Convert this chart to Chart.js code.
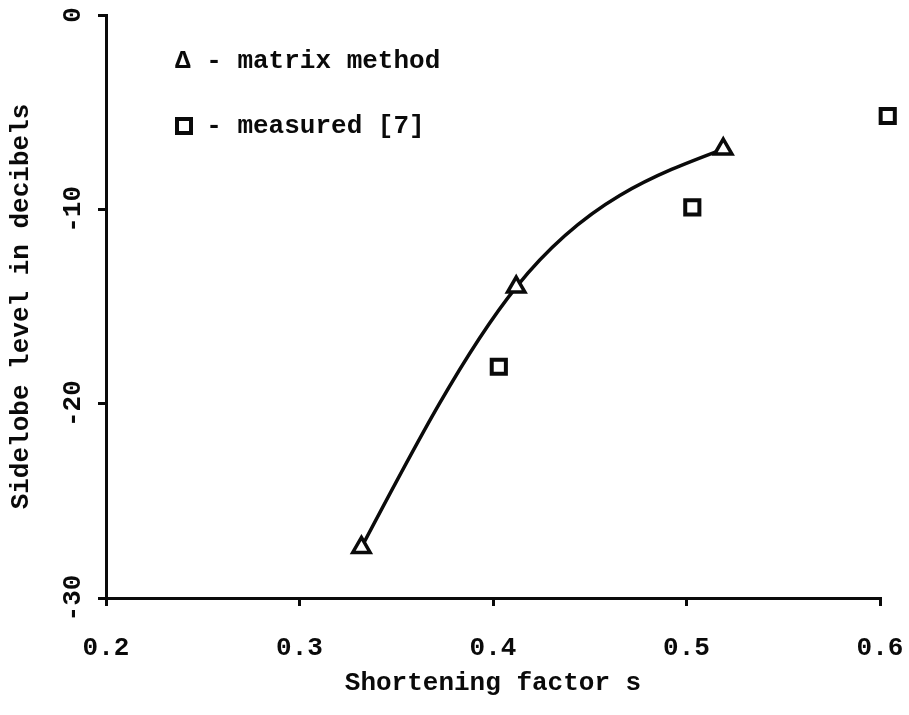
<!DOCTYPE html>
<html>
<head>
<meta charset="utf-8">
<script src="https://cdn.jsdelivr.net/npm/chart.js@4.4.0/dist/chart.umd.min.js"></script>
<style>
  body { margin: 0; background: #fff; }
  #wrap { width: 909px; height: 715px; }
</style>
</head>
<body>
<div id="wrap"><canvas id="sidelobe-chart" width="909" height="715"></canvas></div>
<script>
// shortening factor s vs. sidelobe level (dB)
var matrixS = [0.332, 0.412, 0.519];
var matrixDb = [-27.4, -14.0, -6.9];
var measuredS = [0.403, 0.503, 0.604];
var measuredDb = [-18.1, -9.9, -5.2];
var yTicks = [0, -10, -20, -30];
var legendText = ['\u0394 - matrix method', '- measured [7]'];

var ink = '#0a0a0a';
var mono = '"Liberation Mono", "Courier New", monospace';

function points(xs, ys) {
  return xs.map(function (x, i) { return { x: x, y: ys[i] }; });
}

// natural cubic spline through the point elements -> bezier control points
// (keeps the curve bending one way, no wiggle next to the end points)
function naturalSpline(pts) {
  var n = pts.length, h = [], d = [], M = [], i;
  for (i = 0; i < n - 1; i++) {
    h[i] = pts[i + 1].x - pts[i].x;
    d[i] = (pts[i + 1].y - pts[i].y) / h[i];
  }
  for (i = 0; i < n; i++) M[i] = 0;
  if (n > 2) {
    var a = [], b = [], c = [], r = [];
    for (i = 1; i < n - 1; i++) {
      a.push(h[i - 1]); b.push(2 * (h[i - 1] + h[i])); c.push(h[i]);
      r.push(6 * (d[i] - d[i - 1]));
    }
    var m = b.length;
    for (i = 1; i < m; i++) {
      var w = a[i] / b[i - 1];
      b[i] -= w * c[i - 1];
      r[i] -= w * r[i - 1];
    }
    M[m] = r[m - 1] / b[m - 1];
    for (i = m - 2; i >= 0; i--) M[i + 1] = (r[i] - c[i] * M[i + 2]) / b[i];
  }
  var slope = [];
  for (i = 0; i < n - 1; i++) slope[i] = d[i] - h[i] * (2 * M[i] + M[i + 1]) / 6;
  slope[n - 1] = d[n - 2] + h[n - 2] * (M[n - 2] + 2 * M[n - 1]) / 6;
  for (i = 0; i < n - 1; i++) {
    var k = h[i] / 3;
    pts[i].cp2x = pts[i].x + k;
    pts[i].cp2y = pts[i].y + slope[i] * k;
    pts[i + 1].cp1x = pts[i + 1].x - k;
    pts[i + 1].cp1y = pts[i + 1].y - slope[i + 1] * k;
  }
}

var smoothPlugin = {
  id: 'smoothCurve',
  beforeDatasetDraw: function (chart, args) {
    if (args.index !== 0) return;
    var line = args.meta.dataset;
    line.updateControlPoints(chart.chartArea, 'x');
    naturalSpline(args.meta.data);
  }
};

// y tick labels are rotated, plus the little legend in the corner
var extrasPlugin = {
  id: 'extras',
  afterDraw: function (chart) {
    var ctx = chart.ctx;
    var ys = chart.scales.y;
    var area = chart.chartArea;
    ctx.save();
    ctx.fillStyle = ink;
    ctx.font = 'bold 26px ' + mono;
    ctx.textAlign = 'center';
    ctx.textBaseline = 'middle';
    yTicks.forEach(function (v) {
      ctx.save();
      ctx.translate(ys.right - 33, ys.getPixelForValue(v));
      ctx.rotate(-Math.PI / 2);
      ctx.fillText(String(v), 0, 0);
      ctx.restore();
    });

    var lx = area.left + 69;
    var indent = ctx.measureText('\u0394 ').width;
    ctx.textAlign = 'left';
    ctx.fillText(legendText[0], lx, area.top + 46);
    ctx.strokeStyle = ink;
    ctx.lineWidth = 4;
    ctx.strokeRect(lx + 2, area.top + 104, 14, 14);
    ctx.fillText(legendText[1], lx + indent, area.top + 111);
    ctx.restore();
  }
};

var ctx = document.getElementById('sidelobe-chart');

var chartGraph = new Chart(ctx, {
  type: 'line',
  data: {
    datasets: [{
      label: 'matrix method',
      data: points(matrixS, matrixDb),
      borderColor: ink,
      borderWidth: 3.5,
      cubicInterpolationMode: 'monotone',
      pointStyle: 'triangle',
      pointRadius: 10,
      pointBorderWidth: 3.5,
      pointBackgroundColor: '#fff',
      pointBorderColor: ink,
      clip: false
    }, {
      label: 'measured [7]',
      data: points(measuredS, measuredDb),
      showLine: false,
      pointStyle: 'rect',
      pointRadius: 10,
      pointBorderWidth: 4,
      pointBackgroundColor: '#fff',
      pointBorderColor: ink,
      clip: false
    }]
  },
  options: {
    responsive: false,
    animation: false,
    layout: { padding: { left: 0, top: 15, right: 29, bottom: 0 } },
    plugins: { legend: { display: false }, tooltip: { enabled: false } },
    scales: {
      x: {
        type: 'linear',
        min: 0.2,
        max: 0.6,
        ticks: {
          stepSize: 0.1,
          padding: 27,
          color: ink,
          font: { family: mono, size: 26, weight: 'bold' },
          callback: function (v) { return v.toFixed(1); }
        },
        grid: { drawOnChartArea: false, drawTicks: true, tickLength: 8, color: ink, lineWidth: 3 },
        border: { display: true, color: ink, width: 3 },
        title: {
          display: true,
          text: 'Shortening factor s',
          color: ink,
          font: { family: mono, size: 26, weight: 'bold' },
          padding: { top: 0, bottom: 16 }
        },
        afterFit: function (scale) {
          scale.height = 117;
          // the outer labels fit inside the page margins already
          scale.paddingLeft = 0;
          scale.paddingRight = 0;
        }
      },
      y: {
        min: -30,
        max: 0,
        ticks: { stepSize: 10, display: false },
        grid: { drawOnChartArea: false, drawTicks: true, tickLength: 8, color: ink, lineWidth: 3 },
        border: { display: true, color: ink, width: 3 },
        title: {
          display: true,
          text: 'Sidelobe level in decibels',
          color: ink,
          font: { family: mono, size: 26, weight: 'bold' },
          padding: { top: 6, bottom: 0 }
        },
        afterFit: function (scale) { scale.width = 106; }
      }
    }
  },
  plugins: [smoothPlugin, extrasPlugin]
});
</script>
</body>
</html>
